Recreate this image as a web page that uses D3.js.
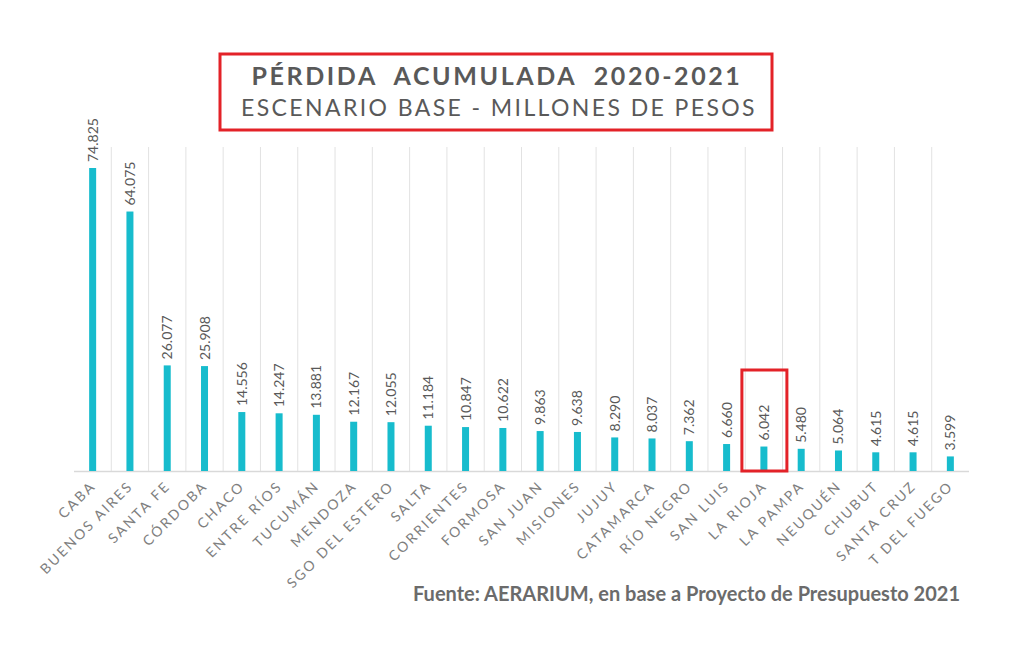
<!DOCTYPE html>
<html><head><meta charset="utf-8">
<script src="https://cdn.jsdelivr.net/npm/d3@7"></script>
<style>body{margin:0;background:#fff}</style>
</head><body>
<script>
const provinces = ["CABA","BUENOS AIRES","SANTA FE","CÓRDOBA","CHACO","ENTRE RÍOS","TUCUMÁN","MENDOZA","SGO DEL ESTERO","SALTA","CORRIENTES","FORMOSA","SAN JUAN","MISIONES","JUJUY","CATAMARCA","RÍO NEGRO","SAN LUIS","LA RIOJA","LA PAMPA","NEUQUÉN","CHUBUT","SANTA CRUZ","T DEL FUEGO"];
const losses = [74.825,64.075,26.077,25.908,14.556,14.247,13.881,12.167,12.055,11.184,10.847,10.622,9.863,9.638,8.290,8.037,7.362,6.660,6.042,5.480,5.064,4.615,4.615,3.599];
const highlight = "LA RIOJA";

const width = 1024, height = 645;
const svg = d3.select("body").append("svg").attr("width", width).attr("height", height)
  .style("font-family", "Lato, 'Open Sans', sans-serif");

const x = d3.scaleBand().domain(provinces).range([74, 969]);
const y = d3.scaleLinear().domain([0, 74.825]).range([471, 168]);

// vertical gridlines at band edges
svg.append("g").selectAll("line").data(provinces.slice(1))
  .join("line")
  .attr("x1", d => x(d)).attr("x2", d => x(d))
  .attr("y1", 147).attr("y2", 471)
  .attr("stroke", "#e2e2e2");

svg.append("line").attr("x1", 74).attr("x2", 969).attr("y1", 471.5).attr("y2", 471.5)
  .attr("stroke", "#d9d9d9").attr("stroke-width", 1.5);

const data = provinces.map((p, i) => ({p, v: losses[i]}));

svg.append("g").selectAll("rect").data(data).join("rect")
  .attr("x", d => x(d.p) + x.bandwidth() / 2 - 3.5)
  .attr("width", 7)
  .attr("y", d => y(d.v))
  .attr("height", d => y(0) - y(d.v))
  .attr("fill", "#17bccd");

svg.append("g").selectAll("text").data(data).join("text")
  .attr("transform", d => `translate(${x(d.p) + x.bandwidth() / 2 + 5},${y(d.v) - 6}) rotate(-90)`)
  .attr("font-size", 14).attr("fill", "#595959")
  .text(d => d.v.toFixed(3));

svg.append("g").selectAll("text").data(provinces).join("text")
  .attr("transform", d => `translate(${x(d) + x.bandwidth() / 2 + 4},${487}) rotate(-45)`)
  .attr("text-anchor", "end")
  .attr("font-size", 14).attr("letter-spacing", 2.2).attr("fill", "#7f7f7f")
  .text(d => d);

// highlight box
const hx = x(highlight) + x.bandwidth() / 2;
svg.append("rect").attr("x", hx - 22).attr("y", 370).attr("width", 45).attr("height", 101)
  .attr("fill", "none").attr("stroke", "#e32228").attr("stroke-width", 3);

// title box
svg.append("rect").attr("x", 220).attr("y", 54).attr("width", 552).attr("height", 76)
  .attr("fill", "none").attr("stroke", "#e32228").attr("stroke-width", 3);
svg.append("text").attr("x", 497).attr("y", 85).attr("text-anchor", "middle")
  .attr("font-size", 25).attr("font-weight", "bold").attr("letter-spacing", 2.6).attr("fill", "#595959")
  .attr("xml:space", "preserve")
  .text("PÉRDIDA  ACUMULADA  2020-2021");
svg.append("text").attr("x", 499).attr("y", 116).attr("text-anchor", "middle")
  .attr("font-size", 23).attr("letter-spacing", 2.4).attr("fill", "#595959")
  .text("ESCENARIO BASE - MILLONES DE PESOS");

svg.append("text").attr("x", 960).attr("y", 601).attr("text-anchor", "end")
  .attr("font-size", 20).attr("font-weight", "bold").attr("fill", "#6b6b6b")
  .text("Fuente: AERARIUM, en base a Proyecto de Presupuesto 2021");
</script>
</body></html>
